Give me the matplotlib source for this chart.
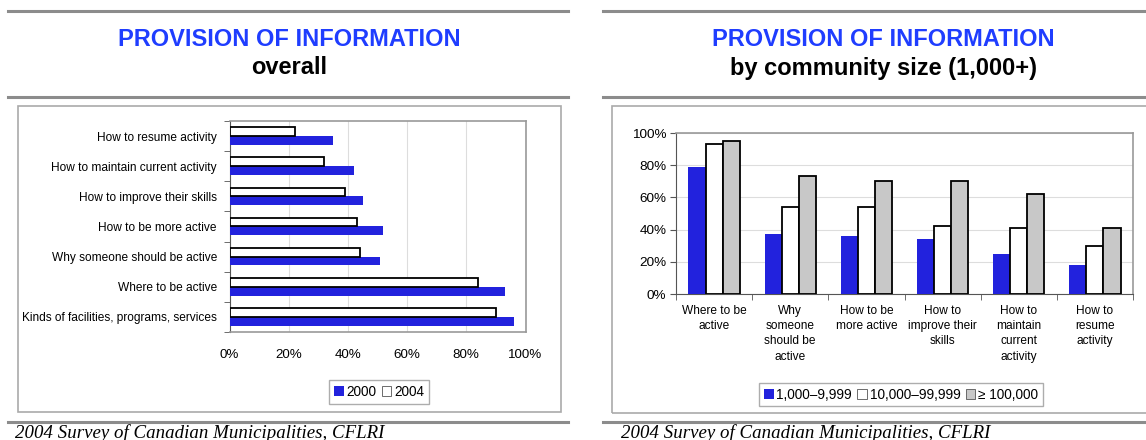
import matplotlib
matplotlib.use('Agg')
import matplotlib.pyplot as plt
import matplotlib.patches as patches
from matplotlib.lines import Line2D
from matplotlib.ticker import FixedLocator, FuncFormatter
import numpy as np

plt.rcParams['font.family'] = ['Liberation Sans', 'DejaVu Sans']

# datos panel izquierdo (de abajo hacia arriba)
topics_left = ['Kinds of facilities, programs, services', 'Where to be active',
               'Why someone should be active', 'How to be more active',
               'How to improve their skills', 'How to maintain current activity',
               'How to resume activity']
vals_2000 = [96, 93, 51, 52, 45, 42, 35]
vals_2004 = [90, 84, 44, 43, 39, 32, 22]

# datos panel derecho
topics_right = ['Where to be\nactive', 'Why\nsomeone\nshould be\nactive',
                'How to be\nmore active', 'How to\nimprove their\nskills',
                'How to\nmaintain\ncurrent\nactivity', 'How to\nresume\nactivity']
size_labels = ['1,000\u20139,999', '10,000\u201399,999', '\u2265 100,000']
small = [79, 37, 36, 34, 25, 18]
medium = [93, 54, 54, 42, 41, 30]
large = [95, 73, 70, 70, 62, 41]

W, H = 1146, 440
BLUE = '#2222dd'
GRAY = '#c8c8c8'
TITLE_BLUE = '#1f3dff'

fig = plt.figure(figsize=(W / 100, H / 100), dpi=100)


def px_axes(x0, y0, x1, y1):
    return fig.add_axes([x0 / W, 1 - y1 / H, (x1 - x0) / W, (y1 - y0) / H])


def hline(x0, x1, y, color='#8c8c8c', lw=2.2):
    fig.add_artist(Line2D([x0 / W, x1 / W], [1 - y / H, 1 - y / H],
                          transform=fig.transFigure, color=color, lw=lw))


def box(x0, y0, x1, y1):
    fig.add_artist(patches.Rectangle((x0 / W, 1 - y1 / H), (x1 - x0) / W, (y1 - y0) / H,
                                     transform=fig.transFigure, fill=False,
                                     ec='#aaaaaa', lw=1.2))


def header(xc, x0, x1, sub, xfoot):
    hline(x0, x1, 11)
    hline(x0, x1, 97)
    fig.text(xc / W, 1 - 40 / H, 'PROVISION OF INFORMATION', color=TITLE_BLUE,
             fontsize=17, fontweight='bold', ha='center', va='center')
    fig.text(xc / W, 1 - 68 / H, sub, color='black',
             fontsize=17, fontweight='bold', ha='center', va='center')
    hline(x0, x1, 422)
    # en la referencia el pie queda cortado por el borde inferior
    fig.text(xfoot / W, 1 - 437.5 / H, '2004 Survey of Canadian Municipalities, CFLRI',
             family='Liberation Serif', style='italic', fontsize=13.6,
             ha='left', va='baseline')


pct = FuncFormatter(lambda v, p: f'{v:.0f}%')

# ---------------- panel izquierdo ----------------
header(289, 8, 568, 'overall', 15)
box(18, 106, 561, 412)
ax1 = px_axes(229.5, 121, 525.5, 332)
y = np.arange(len(topics_left))
hb = 0.29
ax1.barh(y - hb / 2, vals_2000, height=hb, color=BLUE, edgecolor='none', zorder=3,
         label='2000')
ax1.barh(y + hb / 2, vals_2004, height=hb, color='white', edgecolor='black', lw=1.3,
         zorder=3, label='2004')
ax1.set_xlim(0, 100)
ax1.set_ylim(-0.5, len(topics_left) - 0.5)
ax1.xaxis.set_major_locator(FixedLocator([0, 20, 40, 60, 80, 100]))
ax1.xaxis.set_major_formatter(pct)
ax1.set_yticks(y)
ax1.set_yticklabels(topics_left, fontsize=8.6)
ax1.yaxis.set_minor_locator(FixedLocator(np.arange(-0.5, len(topics_left), 1)))
ax1.tick_params(axis='y', which='major', length=0, pad=9)
ax1.tick_params(axis='y', which='minor', length=4, color='#555555')
ax1.tick_params(axis='x', length=0, labelsize=9.6, pad=12)
ax1.grid(axis='x', color='#dddddd', lw=0.8, zorder=0)
for s in ['top', 'right', 'bottom']:
    ax1.spines[s].set_color('#999999')
    ax1.spines[s].set_linewidth(1.2)
ax1.spines['left'].set_color('#555555')
h1, l1 = ax1.get_legend_handles_labels()
leg1 = fig.legend(h1, l1, loc='center', bbox_to_anchor=(379 / W, 1 - 392 / H),
                  ncol=2, fontsize=9.8, frameon=True, fancybox=False,
                  edgecolor='#999999', handlelength=0.7, handleheight=0.7,
                  handletextpad=0.2, columnspacing=0.4, borderpad=0.35,
                  borderaxespad=0)
leg1.get_frame().set_linewidth(1.0)

# ---------------- panel derecho ----------------
header(883, 603, 1146, 'by community size (1,000+)', 621)
box(612, 106, 1150, 413)
ax2 = px_axes(676, 133, 1133, 294)
x = np.arange(len(topics_right))
bw = 0.225
ax2.bar(x - bw, small, width=bw, color=BLUE, edgecolor='none', zorder=3,
        label=size_labels[0])
ax2.bar(x, medium, width=bw, color='white', edgecolor='black', lw=1.3, zorder=3,
        label=size_labels[1])
ax2.bar(x + bw, large, width=bw, color=GRAY, edgecolor='black', lw=1.3, zorder=3,
        label=size_labels[2])
ax2.set_ylim(0, 100)
ax2.set_xlim(-0.5, len(topics_right) - 0.5)
ax2.yaxis.set_major_locator(FixedLocator([0, 20, 40, 60, 80, 100]))
ax2.yaxis.set_major_formatter(pct)
ax2.set_xticks(x)
ax2.set_xticklabels(topics_right, fontsize=8.6, linespacing=1.35, va='top')
ax2.xaxis.set_minor_locator(FixedLocator(np.arange(-0.5, len(topics_right), 1)))
ax2.tick_params(axis='x', which='major', length=0, pad=8)
ax2.tick_params(axis='x', which='minor', length=4, color='#555555')
ax2.tick_params(axis='y', length=4, color='#555555', labelsize=9.7, pad=3)
ax2.grid(axis='y', color='#dddddd', lw=0.8, zorder=0)
for s in ['top', 'right']:
    ax2.spines[s].set_color('#999999')
    ax2.spines[s].set_linewidth(1.2)
for s in ['left', 'bottom']:
    ax2.spines[s].set_color('#555555')
h2, l2 = ax2.get_legend_handles_labels()
leg2 = fig.legend(h2, l2, loc='center', bbox_to_anchor=(901 / W, 1 - 394.5 / H),
                  ncol=3, fontsize=9.8, frameon=True, fancybox=False,
                  edgecolor='#999999', handlelength=0.7, handleheight=0.7,
                  handletextpad=0.2, columnspacing=0.4, borderpad=0.35,
                  borderaxespad=0)
leg2.get_frame().set_linewidth(1.0)
for hnd in leg2.legend_handles + leg1.legend_handles:
    hnd.set_linewidth(0.6)
    if hnd.get_facecolor()[:3] != matplotlib.colors.to_rgb(BLUE):
        hnd.set_edgecolor('#555555')

fig.savefig('out.png', dpi=100, facecolor='white')
